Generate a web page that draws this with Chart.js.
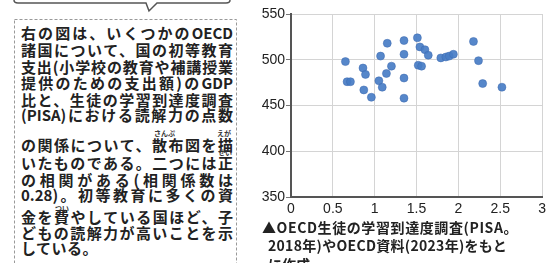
<!DOCTYPE html>
<html><head><meta charset="utf-8">
<script src="https://cdn.jsdelivr.net/npm/chart.js@4"></script>
<style>
html,body{margin:0;padding:0;background:#fff;}
body{width:550px;height:263px;position:relative;overflow:hidden;font-family:"Noto Sans CJK JP","Noto Sans",sans-serif;}
.ln{position:absolute;left:21px;width:212px;font-size:15px;font-weight:700;line-height:16px;color:#222;text-align:justify;text-align-last:justify;}
.last{text-align-last:left;letter-spacing:0.5px;}
.ruby{position:absolute;font-size:7px;font-weight:700;line-height:8px;color:#333;}
.cap{position:absolute;font-size:14px;font-weight:700;line-height:16px;color:#222;white-space:nowrap;}
#c{position:absolute;left:255px;top:0;}
</style></head>
<body>
<svg width="250" height="263" style="position:absolute;left:0;top:0">
  <path d="M14,-10 L14,0 Q14,3 18,3 L146,3 L149,11 L157,3 L226,3 Q230,3 230,0 L230,-10" fill="none" stroke="#555" stroke-width="1.5"/>
  <rect x="14.5" y="19.5" width="222" height="260" fill="none" stroke="#999" stroke-width="1" stroke-dasharray="3,2"/>
</svg>
<div id="txt"></div>
<canvas id="c" width="295" height="220"></canvas>
<div class="cap" style="left:262px;top:219px;letter-spacing:0.6px">▲OECD生徒の学習到達度調査(PISA。</div>
<div class="cap" style="left:268px;top:237px;letter-spacing:0.3px">2018年)やOECD資料(2023年)をもと</div>
<div class="cap" style="left:268px;top:256px">に作成</div>
<script>
const textLines = [
  "右の図は、いくつかのOECD",
  "諸国について、国の初等教育",
  "支出(小学校の教育や補講授業",
  "提供のための支出額)のGDP",
  "比と、生徒の学習到達度調査",
  "(PISA)における読解力の点数",
  "の関係について、散布図を描",
  "いたものである。二つには正",
  "の相関がある(相関係数は",
  "0.28)。初等教育に多くの資",
  "金を費やしている国ほど、子",
  "どもの読解力が高いことを示",
  "している。"
];
const lineTops = [25, 42, 59, 75, 92, 107, 137, 155, 172, 187, 209, 225, 240];
const rubies = [["さんぷ",154,129],["えが",217,129],["せい",218,148],["つい",55,204]];

const spending = [0.65,0.67,0.71,0.86,0.89,0.87,0.96,1.05,1.09,1.07,1.15,1.14,1.20,1.35,1.35,1.35,1.35,1.51,1.52,1.56,1.54,1.60,1.64,1.79,1.85,1.89,1.94,2.18,2.24,2.29,2.52];
const readingScore = [498,476,476,491,484,467,459,477,470,504,518,485,493,521,506,480,458,524,494,493,514,511,505,502,503,504,506,520,499,474,470];
const yTicks = [350,400,450,500,550];
const xTicks = [0,0.5,1,1.5,2,2.5,3];

const txt = document.getElementById('txt');
textLines.forEach((t,i)=>{
  const d=document.createElement('div');
  d.className='ln'+(i===textLines.length-1?' last':'');
  d.style.top=lineTops[i]+'px';
  d.textContent=t;
  txt.appendChild(d);
});
rubies.forEach(r=>{
  const s=document.createElement('span');
  s.className='ruby';s.style.left=r[1]+'px';s.style.top=r[2]+'px';s.textContent=r[0];
  txt.appendChild(s);
});

const pts = spending.map((x,i)=>({x:x,y:readingScore[i]}));
new Chart(document.getElementById('c'),{
  type:'scatter',
  data:{datasets:[{data:pts,backgroundColor:'rgba(72,125,198,0.92)',borderColor:'rgba(60,105,175,1)',borderWidth:0.5,pointRadius:4}]},
  options:{
    responsive:false,animation:false,devicePixelRatio:1,
    layout:{padding:{top:14,right:4,left:0,bottom:0}},
    plugins:{legend:{display:false},tooltip:{enabled:false}},
    scales:{
      x:{type:'linear',min:0,max:3,
        afterBuildTicks:s=>{s.ticks=xTicks.map(v=>({value:v}));},
        afterFit:s=>{s.height=23;},
        grid:{color:'#d4d4d4',lineWidth:1,drawTicks:false},
        border:{color:'#555',width:2},
        ticks:{padding:4,color:'#222',font:{family:'Liberation Sans',size:14},maxRotation:0,autoSkip:false,callback:v=>String(v)}},
      y:{type:'linear',min:350,max:550,
        afterBuildTicks:s=>{s.ticks=yTicks.map(v=>({value:v}));},
        afterFit:s=>{s.width=36;},
        grid:{color:'#d4d4d4',lineWidth:1,tickLength:5,tickColor:'#777'},
        border:{color:'#555',width:2},
        ticks:{padding:1,color:'#222',font:{family:'Liberation Sans',size:14},callback:v=>String(v)}}
    }
  }
});
</script>
</body></html>
